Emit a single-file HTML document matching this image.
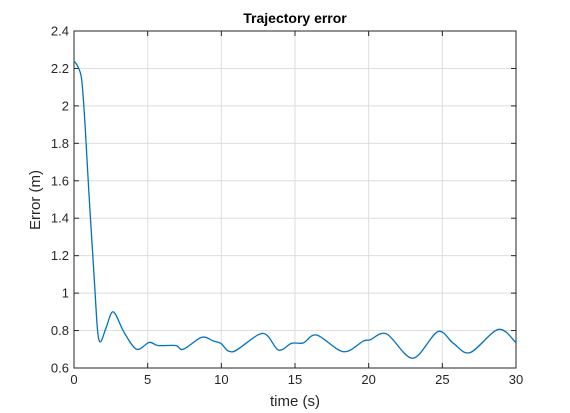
<!DOCTYPE html>
<html><head><meta charset="utf-8"><style>
html,body{margin:0;padding:0;background:#fff;}
svg{display:block;font-family:"Liberation Sans",sans-serif;}
</style></head><body>
<svg id="chart" width="570" height="413">
<rect width="570" height="413" fill="#fff"/>
<g id="grid"></g>
<g id="axes"></g>
<path id="line" fill="none" stroke="#0072bd" stroke-width="1.3"/>
<text x="295" y="23" text-anchor="middle" font-size="14" font-weight="bold" fill="#000">Trajectory error</text>
<text x="295" y="406" text-anchor="middle" font-size="15" fill="#262626">time (s)</text>
<text transform="translate(40,200) rotate(-90)" text-anchor="middle" font-size="15" fill="#262626">Error (m)</text>
</svg>
<script>
const times = [0,0.26,0.52,0.75,1.0,1.38,1.6,1.81,2.2,2.67,3.4,4.25,5.11,5.7,6.9,7.42,8.67,9.46,9.96,10.8,12.8,13.87,14.77,15.57,16.47,18.28,19.64,20.09,21.22,22.99,24.69,25.75,26.88,28.8,30];
const errors = [2.24,2.21,2.14,1.9,1.55,1.07,0.8,0.74,0.82,0.9,0.79,0.70,0.737,0.72,0.72,0.70,0.764,0.744,0.732,0.687,0.785,0.696,0.732,0.734,0.776,0.687,0.744,0.75,0.782,0.652,0.794,0.732,0.682,0.806,0.735];
const xTicks = [0,5,10,15,20,25,30];
const yTicks = [0.6,0.8,1,1.2,1.4,1.6,1.8,2,2.2,2.4];
const yTickLabels = ["0.6","0.8","1","1.2","1.4","1.6","1.8","2","2.2","2.4"];
const L=74,R=516,T=31,B=368;
const xs=t=>L+(t-0)/30*(R-L);
const ys=v=>B-(v-0.6)/1.8*(B-T);
const NS="http://www.w3.org/2000/svg";
const grid=document.getElementById('grid'),axes=document.getElementById('axes');
function mk(tag,attrs,parent){const e=document.createElementNS(NS,tag);for(const k in attrs)e.setAttribute(k,attrs[k]);parent.appendChild(e);return e;}
xTicks.forEach(t=>{const x=xs(t);
 const g=mk('line',{x1:x,x2:x,y1:T,y2:B,stroke:'#dedede','stroke-width':1},grid);
 
 
 mk('line',{x1:x,x2:x,y1:B,y2:B-5,stroke:'#262626'},axes);
 mk('line',{x1:x,x2:x,y1:T,y2:T+5,stroke:'#262626'},axes);
 const tx=mk('text',{x:x,y:B+16,'text-anchor':'middle','font-size':13,fill:'#262626'},axes);
 tx.textContent=t;
 
 
});
yTicks.forEach((v,i)=>{const y=ys(v);
 const g=mk('line',{x1:L,x2:R,y1:y,y2:y,stroke:'#dedede','stroke-width':1},grid);
 
 
 mk('line',{x1:L,x2:L+5,y1:y,y2:y,stroke:'#262626'},axes);
 mk('line',{x1:R,x2:R-5,y1:y,y2:y,stroke:'#262626'},axes);
 const tx=mk('text',{x:L-5,y:y+4.5,'text-anchor':'end','font-size':13,fill:'#262626'},axes);
 tx.textContent=yTickLabels[i];
 
 
});
const box=mk('rect',{x:L,y:T,width:R-L,height:B-T,fill:'none',stroke:'#262626','stroke-width':1},axes);


const P=times.map((t,i)=>[xs(t),ys(errors[i])]);
let d='M'+P[0][0]+','+P[0][1];
for(let i=0;i<P.length-1;i++){
 const p0=P[Math.max(0,i-1)],p1=P[i],p2=P[i+1],p3=P[Math.min(P.length-1,i+2)];
 const k=0.16;
 const c1=[p1[0]+(p2[0]-p0[0])*k,p1[1]+(p2[1]-p0[1])*k];
 const c2=[p2[0]-(p3[0]-p1[0])*k,p2[1]-(p3[1]-p1[1])*k];
 d+=' C'+c1[0]+','+c1[1]+' '+c2[0]+','+c2[1]+' '+p2[0]+','+p2[1];
}
document.getElementById('line').setAttribute('d',d);
</script>
</body></html>
